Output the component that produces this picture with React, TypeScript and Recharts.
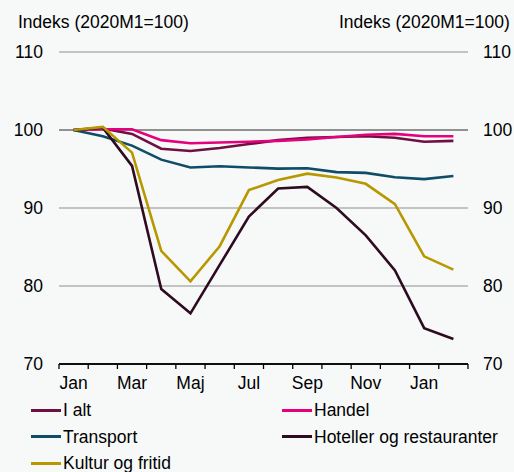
import React from "react";
import {
  LineChart,
  Line,
  XAxis,
  YAxis,
  ReferenceLine,
} from "recharts";

const months = ["Jan", "Feb", "Mar", "Apr", "Maj", "Jun", "Jul", "Aug", "Sep", "Okt", "Nov", "Des", "Jan", "Feb"];

const iAlt = [100, 100.2, 99.5, 97.6, 97.3, 97.7, 98.2, 98.7, 99.0, 99.1, 99.2, 99.0, 98.5, 98.6];
const handel = [100, 100.1, 100.1, 98.7, 98.3, 98.4, 98.5, 98.6, 98.8, 99.1, 99.4, 99.5, 99.2, 99.2];
const transport = [100, 99.2, 98.0, 96.2, 95.2, 95.35, 95.2, 95.05, 95.1, 94.6, 94.5, 93.95, 93.7, 94.1];
const hoteller = [100, 100.3, 95.4, 79.6, 76.5, 82.7, 88.9, 92.5, 92.7, 90.0, 86.5, 82.0, 74.6, 73.2];
const kultur = [100, 100.4, 97.1, 84.5, 80.6, 85.1, 92.3, 93.6, 94.4, 93.9, 93.1, 90.5, 83.8, 82.1];

const yTicks = [70, 80, 90, 100, 110];
const gridValues = [80, 90, 110];

const series = [
  { key: "iAlt", name: "I alt", color: "#6f1040", values: iAlt },
  { key: "handel", name: "Handel", color: "#e5007d", values: handel },
  { key: "transport", name: "Transport", color: "#0f4c68", values: transport },
  { key: "hoteller", name: "Hoteller og restauranter", color: "#2e0b20", values: hoteller },
  { key: "kultur", name: "Kultur og fritid", color: "#b79800", values: kultur },
];

const data = months.map((m, i) => {
  const row: Record<string, number | string> = { x: i, month: m };
  series.forEach((s) => {
    row[s.key] = s.values[i];
  });
  return row;
});

const monthIdx = months.map((_, i) => i);

const font = "'Liberation Sans', Arial, sans-serif";
const tickStyle = { fontSize: 17.5, fill: "#000", fontFamily: font };

const CHART_W = 514;
const LEFT_W = 59;
const RIGHT_W = 46;
// half a month in pixels, so tick marks land on the month borders
const HALF_BAND = (CHART_W - LEFT_W - RIGHT_W) / months.length / 2;

function MonthTick(props: any) {
  const { x, y, payload } = props;
  const i = payload.value as number;
  return (
    <g>
      <line x1={x - HALF_BAND} x2={x - HALF_BAND} y1={y} y2={y + 5} stroke="#000" strokeWidth={1.3} />
      {i === months.length - 1 && (
        <line x1={x + HALF_BAND} x2={x + HALF_BAND} y1={y} y2={y + 5} stroke="#000" strokeWidth={1.3} />
      )}
      {i % 2 === 0 && (
        <text
          x={x}
          y={y + 13}
          dy="0.71em"
          textAnchor="middle"
          fontSize={17.5}
          fill="#000"
          fontFamily={font}
        >
          {months[i]}
        </text>
      )}
    </g>
  );
}

export default function App() {
  return (
    <div
      style={{
        position: "absolute",
        left: 0,
        top: 0,
        width: 514,
        height: 472,
        background: "#f7f9f9",
        fontFamily: font,
        overflow: "hidden",
      }}
    >
      <div style={{ position: "absolute", left: 18, top: 12, fontSize: 17.5, whiteSpace: "nowrap" }}>
        Indeks (2020M1=100)
      </div>
      <div style={{ position: "absolute", left: 339, top: 12, fontSize: 17.5, whiteSpace: "nowrap" }}>
        Indeks (2020M1=100)
      </div>

      <LineChart
        width={CHART_W}
        height={400}
        data={data}
        margin={{ top: 52, right: 0, bottom: 0, left: 0 }}
      >
        <XAxis
          dataKey="x"
          type="number"
          domain={[-0.5, months.length - 0.5]}
          ticks={monthIdx}
          interval={0}
          height={36}
          axisLine={{ stroke: "#000", strokeWidth: 1.3 }}
          tickLine={false}
          tickSize={0}
          tickMargin={0}
          tick={<MonthTick />}
        />
        <YAxis
          yAxisId="left"
          domain={[70, 110]}
          ticks={yTicks}
          width={LEFT_W}
          axisLine={false}
          tickLine={false}
          tickSize={6}
          tickMargin={10}
          tick={tickStyle}
        />
        <YAxis
          yAxisId="right"
          orientation="right"
          domain={[70, 110]}
          ticks={yTicks}
          width={RIGHT_W}
          axisLine={false}
          tickLine={false}
          tickSize={6}
          tickMargin={9}
          tick={{ ...tickStyle, textAnchor: "start" }}
        />
        {gridValues.map((v) => (
          <ReferenceLine key={v} y={v} yAxisId="left" stroke="#b0b0b0" strokeWidth={1.3} />
        ))}
        <ReferenceLine y={100} yAxisId="left" stroke="#6e6e6e" strokeWidth={1.3} />
        <ReferenceLine y={70} yAxisId="left" stroke="#000" strokeWidth={1.3} />
        {/* invisible copy so the right axis has a series bound to it */}
        <Line
          yAxisId="right"
          dataKey="iAlt"
          stroke="none"
          dot={false}
          legendType="none"
          isAnimationActive={false}
        />
        {series.map((s) => (
          <Line
            key={s.key}
            yAxisId="left"
            dataKey={s.key}
            name={s.name}
            stroke={s.color}
            strokeWidth={2.6}
            dot={false}
            type="linear"
            isAnimationActive={false}
          />
        ))}
      </LineChart>

      <div style={{ position: "absolute", left: 31, top: 396, width: 483 }}>
        {series.map((s, i) => (
          <div
            key={s.key}
            style={{
              position: "absolute",
              left: i % 2 === 0 ? 0 : 251,
              top: Math.floor(i / 2) * 26.5,
              display: "flex",
              alignItems: "center",
              fontSize: 17.5,
              lineHeight: "28px",
              whiteSpace: "nowrap",
            }}
          >
            <span
              style={{
                display: "inline-block",
                width: 30,
                height: 3,
                background: s.color,
                marginRight: 2,
              }}
            />
            {s.name}
          </div>
        ))}
      </div>
    </div>
  );
}
